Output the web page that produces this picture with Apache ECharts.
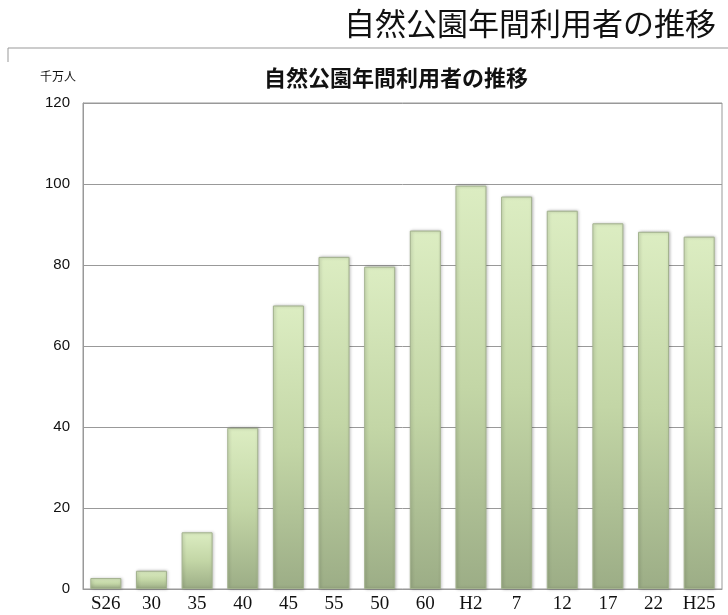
<!DOCTYPE html>
<html>
<head>
<meta charset="utf-8">
<script src="https://cdn.jsdelivr.net/npm/echarts@6/dist/echarts.min.js"></script>
<style>
html, body { margin: 0; padding: 0; background: #fff; }
#main { width: 728px; height: 615px; }
</style>
</head>
<body>
<div id="main"></div>
<script>
var myChart = echarts.init(document.getElementById('main'));

// 年次 (昭和・平成)
var years = ['S26', '30', '35', '40', '45', '55', '50', '60', 'H2', '7', '12', '17', '22', 'H25'];
// 自然公園年間利用者数 (千万人)
var visitors = [2.7, 4.5, 14.0, 39.8, 70.0, 82.0, 79.6, 88.5, 99.6, 96.9, 93.4, 90.3, 88.2, 87.0];
var yTicks = [0, 20, 40, 60, 80, 100, 120];

var option = {
    backgroundColor: '#fff',
    animation: false,
    title: [{
        text: '自然公園年間利用者の推移',
        right: 7,
        top: 3,
        textStyle: { fontFamily: 'Noto Sans CJK JP', fontSize: 31, fontWeight: 'normal', color: '#111' }
    }, {
        text: '自然公園年間利用者の推移',
        left: 391,
        textAlign: 'center',
        top: 62,
        textStyle: { fontFamily: 'Noto Sans CJK JP', fontSize: 22, fontWeight: 'bold', color: '#111' }
    }, {
        text: '千万人',
        left: 35,
        top: 65,
        textStyle: { fontFamily: 'Noto Sans CJK JP', fontSize: 12, fontWeight: 'normal', color: '#111' }
    }],
    graphic: [{
        type: 'polyline',
        shape: { points: [[8, 62], [8, 48], [728, 48]] },
        style: { stroke: '#999', lineWidth: 1, fill: null }
    }],
    grid: {
        left: 83,
        right: 6,
        top: 103,
        bottom: 26,
        show: true,
        borderColor: '#999',
        borderWidth: 1
    },
    xAxis: {
        type: 'category',
        data: years,
        axisLine: { lineStyle: { color: '#999' } },
        axisTick: { show: false },
        axisLabel: { fontFamily: 'Liberation Serif', fontSize: 19, color: '#111', margin: 6 }
    },
    yAxis: {
        type: 'value',
        min: 0,
        max: 120,
        interval: 20,
        axisLine: { show: true, lineStyle: { color: '#999' } },
        axisTick: { show: false },
        axisLabel: {
            fontFamily: 'Liberation Sans', fontSize: 15, color: '#111', margin: 13,
            formatter: function (v) { return yTicks.indexOf(v) >= 0 ? String(v) : ''; }
        },
        splitLine: { lineStyle: { color: '#999', width: 1 } }
    },
    series: [{
        type: 'bar',
        data: visitors,
        barWidth: 31,
        itemStyle: {
            color: new echarts.graphic.LinearGradient(0, 0, 0, 1, [
                { offset: 0, color: '#dcedc2' },
                { offset: 0.5, color: '#c3d6a6' },
                { offset: 1, color: '#9cad86' }
            ]),
            borderColor: '#a3b28e',
            borderWidth: 1,
            shadowColor: 'rgba(0,0,0,0.25)',
            shadowBlur: 3,
            shadowOffsetX: 1,
            shadowOffsetY: 0
        }
    }]
};

myChart.setOption(option);
</script>
</body>
</html>
